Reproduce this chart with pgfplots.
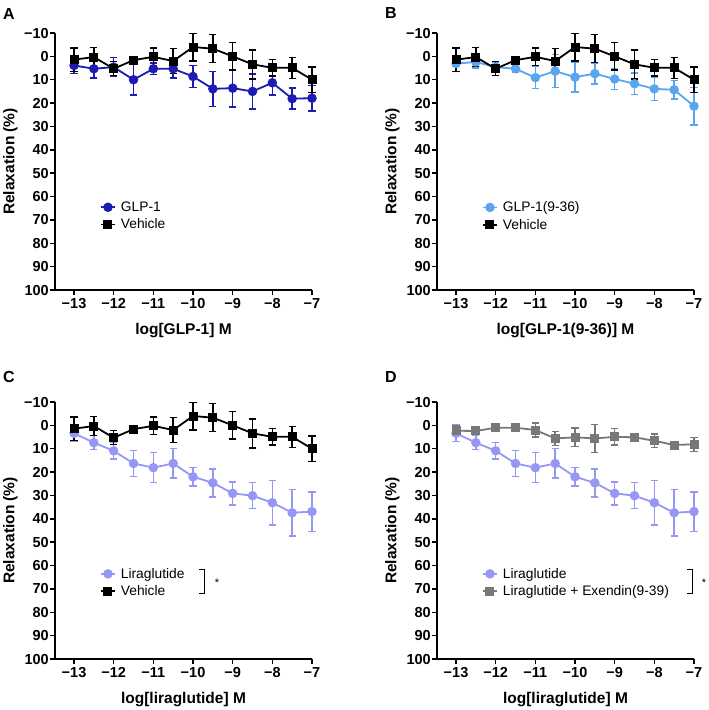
\documentclass[border=0pt]{standalone}
\usepackage{pgfplots}
\usepackage{pgfplotstable}
\pgfplotsset{compat=1.18}
\usepackage{fontspec}
\setmainfont{Liberation Sans}
\definecolor{glpblue}{RGB}{28,28,180}
\definecolor{glplight}{RGB}{90,165,240}
\definecolor{lira}{RGB}{150,150,245}
\definecolor{exgray}{RGB}{120,120,120}

\pgfplotstableread{
x y e
-13 1.4 5
-12.5 0.3 4
-12 5.3 3
-11.5 1.6 1.5
-11 0.2 3.7
-10.5 2.0 5.3
-10 -4 5.9
-9.5 -3.3 6
-9 0 5.9
-8.5 3.4 6.2
-8 4.9 3.5
-7.5 4.9 4.5
-7 10 5.5
}\vehicle

\pgfplotstableread{
x y e
-13 3.9 3.5
-12.5 5.3 4
-12 4.6 4
-11.5 10 6.5
-11 5.3 2.5
-10.5 5.3 4
-10 8.6 4.8
-9.5 13.9 7.5
-9 13.6 8
-8.5 15 7.5
-8 11.3 5.3
-7.5 18.1 4.5
-7 17.9 5.5
}\glpone

\pgfplotstableread{
x y e
-13 3.1 3.5
-12.5 2.4 2.5
-12 4.6 2
-11.5 5.3 1.5
-11 9.1 4.7
-10.5 6.3 7
-10 8.9 6.3
-9.5 7.4 4.5
-9 9.7 4.5
-8.5 11.7 4.5
-8 13.9 5
-7.5 14.3 4
-7 21.3 8
}\glpnine

\pgfplotstableread{
x y e
-13 3.4 3.5
-12.5 7.4 3
-12 10.9 3.5
-11.5 16.3 5.5
-11 18.1 6.4
-10.5 16.3 6.3
-10 22 3.9
-9.5 24.6 6
-9 29.1 4.9
-8.5 30.1 5.6
-8 33.1 9.6
-7.5 37.4 10
-7 36.9 8.4
}\lirag

\pgfplotstableread{
x y e
-13 2.3 2
-12.5 2.4 1
-12 1 0
-11.5 1 0
-11 2 3
-10.5 5.6 3
-10 5.1 4
-9.5 5.6 5.9
-9 4.9 3.5
-8.5 5.1 0.5
-8 6.6 2.9
-7.5 8.4 1
-7 8.1 3
}\liraex

\pgfplotsset{
 panel/.style={
  scale only axis, width=257pt, height=257pt,
  xmin=-13.48, xmax=-7, ymin=-10, ymax=100, y dir=reverse,
  clip=false,
  axis x line*=bottom, axis y line*=left,
  axis line style={line width=1.8pt, -},
  xtick={-13,-12,-11,-10,-9,-8,-7},
  xticklabels={−13,−12,−11,−10,−9,−8,−7},
  ytick={-10,0,10,20,30,40,50,60,70,80,90,100},
  yticklabels={−10,0,10,20,30,40,50,60,70,80,90,100},
  tick align=outside, major tick length=5pt,
  tick style={line width=1.5pt, black},
  ticklabel style={font=\fontsize{14.5}{15}\selectfont\bfseries},
  yticklabel style={inner sep=1pt},
  label style={font=\fontsize{15.5}{16}\selectfont\bfseries},
  xlabel style={yshift=-8pt},
  ylabel style={yshift=2pt},
  ylabel={Relaxation (\%)},
  legend style={draw=none, fill=none, font=\fontsize{13.8}{14}\selectfont,
    anchor=north west, row sep=2pt, column sep=3pt},
  legend cell align=left,
  legend image code/.code={\draw[mark repeat=2,mark phase=2,##1] plot coordinates {(0pt,0pt) (7pt,0pt) (14pt,0pt)};},
  error bars/y dir=both, error bars/y explicit,
  error bars/error bar style={line width=1.4pt},
  error bars/error mark options={rotate=90, mark size=3.6pt, line width=1.4pt},
 },
 sq/.style={color=#1, line width=1.8pt, mark=square*, mark size=3.6pt, mark options={solid, fill=#1}},
 ci/.style={color=#1, line width=1.8pt, mark=*, mark size=3.8pt, mark options={solid, fill=#1}},
}

\begin{document}
\begin{tikzpicture}
\useasboundingbox (0,0) rectangle (709pt,-710pt);

% Panel A
\begin{axis}[panel, at={(55pt,-290pt)}, anchor=south west,
  xlabel={log[GLP-1] M}, legend style={at={(0.163,0.36)}}]
\addplot[ci=glpblue] table[x=x,y=y,y error=e]{\glpone};
\addlegendentry{GLP-1}
\addplot[sq=black] table[x=x,y=y,y error=e]{\vehicle};
\addlegendentry{Vehicle}
\end{axis}

% Panel B
\begin{axis}[panel, at={(437pt,-290pt)}, anchor=south west,
  xlabel={log[GLP-1(9-36)] M}, legend style={at={(0.163,0.36)}}]
\addplot[ci=glplight] table[x=x,y=y,y error=e]{\glpnine};
\addlegendentry{GLP-1(9-36)}
\addplot[sq=black] table[x=x,y=y,y error=e]{\vehicle};
\addlegendentry{Vehicle}
\end{axis}

% Panel C
\begin{axis}[panel, at={(55pt,-659pt)}, anchor=south west,
  xlabel={log[liraglutide] M}, legend style={at={(0.163,0.37)}}]
\addplot[ci=lira] table[x=x,y=y,y error=e]{\lirag};
\addlegendentry{Liraglutide}
\addplot[sq=black] table[x=x,y=y,y error=e]{\vehicle};
\addlegendentry{Vehicle}
\end{axis}

% Panel D
\begin{axis}[panel, at={(437pt,-659pt)}, anchor=south west,
  xlabel={log[liraglutide] M}, legend style={at={(0.163,0.37)}}]
\addplot[ci=lira] table[x=x,y=y,y error=e]{\lirag};
\addlegendentry{Liraglutide}
\addplot[sq=exgray] table[x=x,y=y,y error=e]{\liraex};
\addlegendentry{Liraglutide + Exendin(9-39)}
\end{axis}

% panel letters
\node[font=\fontsize{16}{17}\selectfont\bfseries] at (9pt,-14pt) {A};
\node[font=\fontsize{16}{17}\selectfont\bfseries] at (391pt,-13pt) {B};
\node[font=\fontsize{16}{17}\selectfont\bfseries] at (9pt,-377pt) {C};
\node[font=\fontsize{16}{17}\selectfont\bfseries] at (391pt,-377pt) {D};

% significance brackets
\draw[line width=1pt] (199pt,-569pt) -- (204pt,-569pt) -- (204pt,-593pt) -- (199pt,-593pt);
\node[font=\fontsize{11}{12}\selectfont] at (217pt,-583pt) {*};
\draw[line width=1pt] (687pt,-569pt) -- (692pt,-569pt) -- (692pt,-593pt) -- (687pt,-593pt);
\node[font=\fontsize{11}{12}\selectfont] at (704pt,-583pt) {*};
\end{tikzpicture}
\end{document}
